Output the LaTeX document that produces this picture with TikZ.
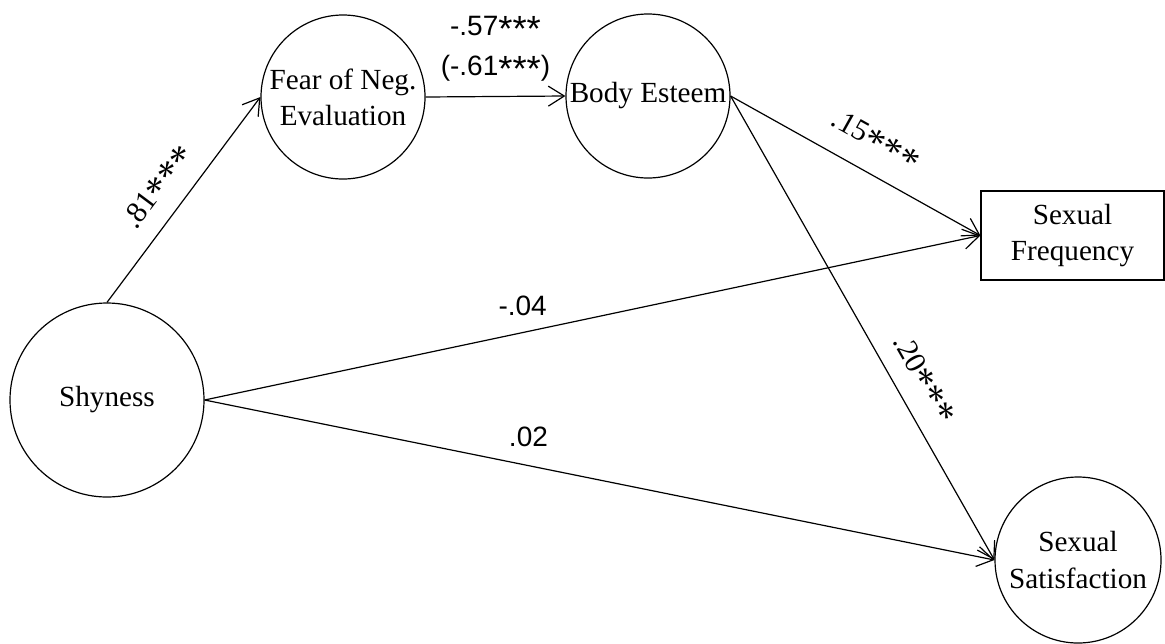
\documentclass[tikz,border=0pt]{standalone}
\usepackage{fontspec}
\usepackage{graphicx}
\setmainfont{Liberation Serif}
\newfontfamily\coeffont{Liberation Sans}
\usetikzlibrary{arrows.meta}
\newcommand{\onestar}{\raisebox{-0.2em}{\scalebox{1.3}{*}}}
\newcommand{\stars}{\onestar\onestar\onestar}
\tikzset{
  latent/.style={draw, circle, line width=0.6pt, inner sep=0pt, align=center, font=\fontsize{14.6}{18}\selectfont},
  observed/.style={draw, rectangle, line width=0.6pt, inner sep=0pt, align=center, font=\fontsize{14.6}{18}\selectfont},
  effect/.style={line width=0.6pt, -{Straight Barb[length=8pt,width=10pt]}},
  coef/.style={font=\fontsize{15}{18}\selectfont},
  coefsans/.style={align=center, font=\coeffont\fontsize{14}{20}\selectfont}
}

\begin{document}
\begin{tikzpicture}[x=0.5pt, y=-0.5pt]
        \useasboundingbox (0,0) rectangle (1165,643);

        % latent variables
        \node[latent, minimum size=97pt] (shy) at (107,400) {Shyness};
        \node[latent, minimum size=82pt] (fne) at (343,97) {Fear of Neg.\\Evaluation};
        \node[latent, minimum size=82pt] (body) at (648,96) {Body Esteem};
        \node[latent, minimum size=83pt] (sat) at (1078,560) {Sexual\\Satisfaction};

        % observed outcome
        \node[observed, minimum width=91.5pt, minimum height=44.5pt] (freq) at (1072.5,235.5) {Sexual\\Frequency};

        % paths
        \draw[effect] (shy.north) -- node[coef, sloped, above=3pt, pos=0.48] {.81\stars} (fne.west);
        \draw[effect] (fne.east) -- node[coefsans, above=4pt] {-.57\stars\\(-.61\stars)} (body.west);
        \draw[effect] (body.east) -- node[coef, sloped, above=5pt, pos=0.52] {.15\stars} (freq.west);
        \draw[effect] (body.east) -- node[coef, sloped, above=3pt, pos=0.64] {.20\stars} (sat.west);
        \draw[effect] (shy.east) -- node[coefsans, above=5pt, pos=0.41] {-.04} (freq.west);
        \draw[effect] (shy.east) -- node[coefsans, above=6pt, pos=0.41] {.02} (sat.west);

\end{tikzpicture}
\end{document}
